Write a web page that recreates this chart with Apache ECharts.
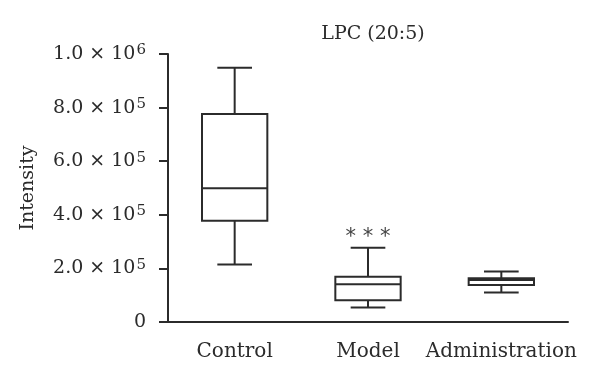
<!DOCTYPE html>
<html>
<head>
<meta charset="utf-8">
<script src="https://cdn.jsdelivr.net/npm/echarts@6/dist/echarts.min.js"></script>
<style>html,body{margin:0;padding:0;background:#fff;}#c{width:600px;height:382px;}</style>
</head>
<body>
<div id="c"></div>
<script>
const title = 'LPC (20:5)';
const categories = ['Control', 'Model', 'Administration'];
const mins    = [215000, 54000, 110000];
const q1s     = [378000, 81000, 138000];
const medians = [499000, 141000, 157000];
const q3s     = [776000, 169000, 163000];
const maxs    = [949000, 277000, 188000];
const annotations = ['', '***', ''];
const yTicks = [0, 200000, 400000, 600000, 800000, 1000000];
const yTickBase = ['0', '2.0 \u00d7 10', '4.0 \u00d7 10', '6.0 \u00d7 10', '8.0 \u00d7 10', '1.0 \u00d7 10'];
const yTickExp  = ['', '5', '5', '5', '5', '6'];

const FONT = 'DejaVu Serif';
const INK = '#2b2b2b';

const data = categories.map((c, i) => [i, mins[i], q1s[i], medians[i], q3s[i], maxs[i]]);

const chart = echarts.init(document.getElementById('c'));
chart.setOption({
  animation: false,
  backgroundColor: '#fff',
  title: {
    text: title, left: 368, top: 20, textAlign: 'center',
    textStyle: {fontFamily: FONT, fontSize: 19, fontWeight: 'normal', color: INK}
  },
  grid: {left: 168, right: 32, top: 54, bottom: 60},
  xAxis: {
    type: 'category', data: categories, boundaryGap: true,
    axisLine: {lineStyle: {color: INK, width: 2}},
    axisTick: {alignWithLabel: true, length: 9, lineStyle: {color: INK, width: 2}},
    axisLabel: {fontFamily: FONT, fontSize: 20, color: INK, margin: 20, interval: 0, hideOverlap: false},
    splitLine: {show: false}
  },
  yAxis: {
    type: 'value', min: 0, max: 1000000, interval: 200000,
    name: 'Intensity', nameLocation: 'middle', nameGap: 130,
    nameTextStyle: {fontFamily: FONT, fontSize: 19, color: INK},
    axisLine: {show: true, lineStyle: {color: INK, width: 2}},
    axisTick: {show: true, length: 9, lineStyle: {color: INK, width: 2}},
    splitLine: {show: false},
    axisLabel: {
      margin: 22,
      formatter: function (v) {
        const i = yTicks.indexOf(v);
        if (i < 0) return '';
        if (!yTickExp[i]) return '{b|' + yTickBase[i] + '}';
        return '{b|' + yTickBase[i] + '}{s|' + yTickExp[i] + '}';
      },
      rich: {
        b: {fontFamily: FONT, fontSize: 19, color: INK, lineHeight: 22},
        s: {fontFamily: FONT, fontSize: 15, color: INK, verticalAlign: 'top', lineHeight: 14, padding: [0, 0, 0, 1]}
      }
    }
  },
  series: [{
    type: 'custom',
    data: data,
    encode: {x: 0, y: [1, 2, 3, 4, 5]},
    renderItem: function (params, api) {
      const x = api.value(0);
      const pMin = api.coord([x, api.value(1)]);
      const pQ1 = api.coord([x, api.value(2)]);
      const pMed = api.coord([x, api.value(3)]);
      const pQ3 = api.coord([x, api.value(4)]);
      const pMax = api.coord([x, api.value(5)]);
      const band = api.size([1, 0])[0];
      const bw = band * 0.49, cw = band * 0.26;
      const cx = pMed[0];
      const st = {stroke: INK, lineWidth: 2, fill: null};
      const children = [
        {type: 'rect', shape: {x: cx - bw / 2, y: pQ3[1], width: bw, height: pQ1[1] - pQ3[1]}, style: {stroke: INK, lineWidth: 2, fill: '#fff'}},
        {type: 'line', shape: {x1: cx - bw / 2, y1: pMed[1], x2: cx + bw / 2, y2: pMed[1]}, style: st},
        {type: 'line', shape: {x1: cx, y1: pQ3[1], x2: cx, y2: pMax[1]}, style: st},
        {type: 'line', shape: {x1: cx, y1: pQ1[1], x2: cx, y2: pMin[1]}, style: st},
        {type: 'line', shape: {x1: cx - cw / 2, y1: pMax[1], x2: cx + cw / 2, y2: pMax[1]}, style: st},
        {type: 'line', shape: {x1: cx - cw / 2, y1: pMin[1], x2: cx + cw / 2, y2: pMin[1]}, style: st}
      ];
      const ann = annotations[params.dataIndex];
      if (ann) {
        children.push({
          type: 'text',
          style: {
            text: ann.split('').join(' '), x: cx, y: pMax[1] - 10,
            align: 'center', verticalAlign: 'middle',
            font: '21px "DejaVu Sans"', fill: '#444'
          }
        });
      }
      return {type: 'group', children: children};
    }
  }]
});
</script>
</body>
</html>
